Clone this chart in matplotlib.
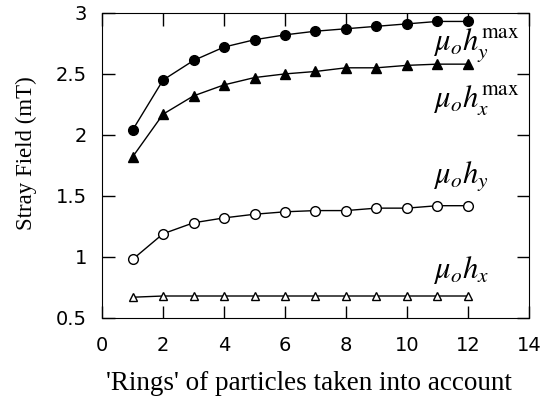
import numpy as np
import matplotlib.pyplot as plt

plt.rcParams['mathtext.fontset'] = 'stix'

# number of 'rings' of particles
rings = np.arange(1, 13)

# stray field values (mT)
hy_max = [2.04, 2.45, 2.61, 2.72, 2.78, 2.82, 2.85, 2.87, 2.89, 2.91, 2.93, 2.93]
hx_max = [1.82, 2.17, 2.32, 2.41, 2.47, 2.50, 2.52, 2.55, 2.55, 2.57, 2.58, 2.58]
hy = [0.98, 1.19, 1.28, 1.32, 1.35, 1.37, 1.38, 1.38, 1.40, 1.40, 1.42, 1.42]
hx = [0.67, 0.68, 0.68, 0.68, 0.68, 0.68, 0.68, 0.68, 0.68, 0.68, 0.68, 0.68]

x_ticks = [0, 2, 4, 6, 8, 10, 12, 14]
y_ticks = [0.5, 1, 1.5, 2, 2.5, 3]
y_tick_labels = ['0.5', '1', '1.5', '2', '2.5', '3']

fig = plt.figure(figsize=(5.52, 4.03), dpi=100)
ax = fig.add_axes([0.185, 0.211, 0.773, 0.757])

ax.plot(rings, hy_max, 'k-', marker='o', ms=7, mfc='k', lw=1)
ax.plot(rings, hx_max, 'k-', marker='^', ms=7, mfc='k', lw=1)
ax.plot(rings, hy, 'k-', marker='o', ms=7, mfc='white', lw=1)
ax.plot(rings, hx, 'k-', marker='^', ms=6, mfc='white', lw=1)

# curve labels
lab_kw = dict(fontsize=22, ha='left', va='baseline')
ax.text(10.85, 2.69, r'$\mu_o h_y^{\mathrm{max}}$', **lab_kw)
ax.text(10.85, 2.22, r'$\mu_o h_x^{\mathrm{max}}$', **lab_kw)
ax.text(10.85, 1.60, r'$\mu_o h_y$', **lab_kw)
ax.text(10.85, 0.83, r'$\mu_o h_x$', **lab_kw)

ax.set_xlim(0, 14)
ax.set_ylim(0.5, 3)
ax.set_xticks(x_ticks)
ax.set_yticks(y_ticks)
ax.set_yticklabels(y_tick_labels)
ax.tick_params(direction='in', length=9, width=1, top=True, right=True,
               labelsize=14)
ax.tick_params(axis='x', pad=13)
ax.tick_params(axis='y', pad=11)
for lab in ax.get_xticklabels() + ax.get_yticklabels():
    lab.set_family('DejaVu Sans')

ax.set_xlabel("'Rings' of particles taken into account",
              family='Liberation Serif', fontsize=19.5)
ax.set_ylabel('Stray Field (mT)', family='Liberation Serif', fontsize=16.5)
ax.xaxis.set_label_coords(0.485, -0.175)
ax.yaxis.set_label_coords(-0.152, 0.54)

fig.savefig('out.png', dpi=100)
